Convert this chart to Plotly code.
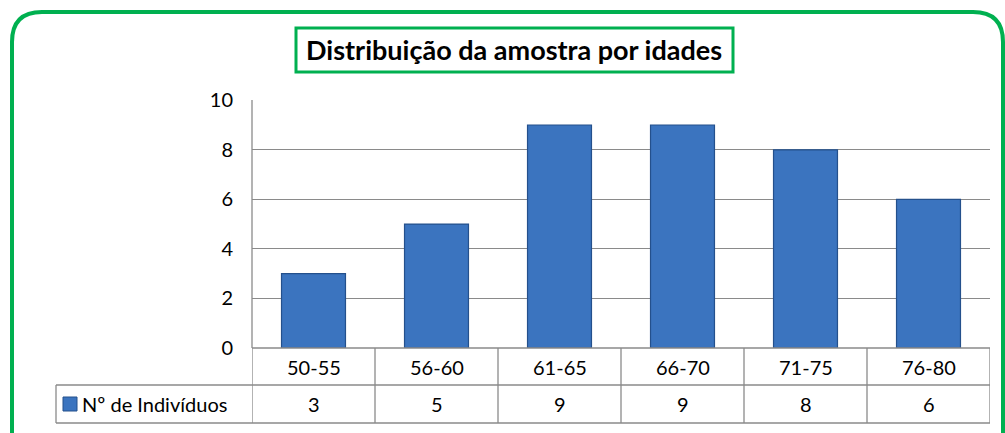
import plotly.graph_objects as go

# data
faixas = ["50-55", "56-60", "61-65", "66-70", "71-75", "76-80"]
individuos = [3, 5, 9, 9, 8, 6]
serie = "Nº de Indivíduos"
titulo = "Distribuição da amostra por idades"

fonte = "Lato, Open Sans, sans-serif"
cinza = "#8a8a8a"
azul = "#3b74bf"
verde = "#00b050"

W, H = 1005, 433
L, R, T, B = 252, 15, 100, 85
pw, ph = W - L - R, H - T - B
def px(x): return (x - L) / pw
def py(y): return (H - B - y) / ph

fig = go.Figure()
fig.add_trace(go.Bar(
    x=list(range(len(faixas))), y=individuos, width=0.52,
    marker=dict(color=azul, line=dict(color="#24508c", width=1.2)),
    showlegend=False, hoverinfo="y",
))

# table under the plot
row1_c, row_mid, row2_c, row_bot = py(367), py(385), py(404), py(423)
legend_left = px(56)
linha = dict(color=cinza, width=1.3)
shapes = []
n = len(faixas)
for i in range(n + 1):
    shapes.append(dict(type="line", xref="x", yref="paper", x0=i - 0.5, x1=i - 0.5,
                       y0=0, y1=row_bot, line=linha))
shapes.append(dict(type="line", xref="paper", yref="paper", x0=0, x1=1, y0=0, y1=0, line=linha))
for yy in (row_mid, row_bot):
    shapes.append(dict(type="line", xref="paper", yref="paper", x0=legend_left, x1=1,
                       y0=yy, y1=yy, line=linha))
shapes.append(dict(type="line", xref="paper", yref="paper", x0=legend_left, x1=legend_left,
                   y0=row_mid, y1=row_bot, line=linha))
shapes.append(dict(type="line", xref="paper", yref="paper", x0=0, x1=0, y0=1, y1=0, line=linha))
# legend key square
shapes.append(dict(type="rect", xref="paper", yref="paper", x0=px(63), x1=px(77),
                   y0=py(397), y1=py(411), fillcolor=azul, line=dict(color="#24508c", width=1)))

# green outer frame (rounded top corners, runs off the bottom)
r = 30
x0, y0, x1, y1 = 12, 12, 1003, 470
shapes.append(dict(
    type="path", xref="paper", yref="paper", layer="above",
    path=(f"M {px(x0)},{py(y1)} L {px(x0)},{py(y0 + r)} Q {px(x0)},{py(y0)} {px(x0 + r)},{py(y0)} "
          f"L {px(x1 - r)},{py(y0)} Q {px(x1)},{py(y0)} {px(x1)},{py(y0 + r)} L {px(x1)},{py(y1)}"),
    line=dict(color=verde, width=4)))
# title box
shapes.append(dict(type="rect", xref="paper", yref="paper", x0=px(296), x1=px(733),
                   y0=py(28), y1=py(72), line=dict(color=verde, width=3), fillcolor="white"))

txt = dict(size=20, color="#000", family=fonte)
annotations = []
for i, (f, v) in enumerate(zip(faixas, individuos)):
    annotations.append(dict(x=i, y=row1_c, xref="x", yref="paper", text=f, showarrow=False,
                            xanchor="center", yanchor="middle", font=txt))
    annotations.append(dict(x=i, y=row2_c, xref="x", yref="paper", text=str(v), showarrow=False,
                            xanchor="center", yanchor="middle", font=txt))
annotations.append(dict(x=px(80), y=row2_c, xref="paper", yref="paper", text=serie,
                        showarrow=False, xanchor="left", yanchor="middle", font=txt))
annotations.append(dict(x=px(514), y=py(50), xref="paper", yref="paper", text=f"<b>{titulo}</b>",
                        showarrow=False, xanchor="center", yanchor="middle",
                        font=dict(size=27, color="#000", family=fonte)))

fig.update_layout(
    width=W, height=H,
    margin=dict(l=L, r=R, t=T, b=B),
    paper_bgcolor="white", plot_bgcolor="white",
    xaxis=dict(range=[-0.5, n - 0.5], showticklabels=False, showgrid=False,
               zeroline=False, showline=False, fixedrange=True),
    yaxis=dict(range=[0, 10.01], tickvals=[0, 2, 4, 6, 8, 10], showgrid=True,
               gridcolor=cinza, gridwidth=1.3, zeroline=False, showline=False, ticks="",
               ticklabelstandoff=18, tickfont=txt),
    shapes=shapes,
    annotations=annotations,
    font=dict(family=fonte),
)

fig.write_html("out.html", config={"displayModeBar": False},
               post_script="document.body.style.margin='0';")
